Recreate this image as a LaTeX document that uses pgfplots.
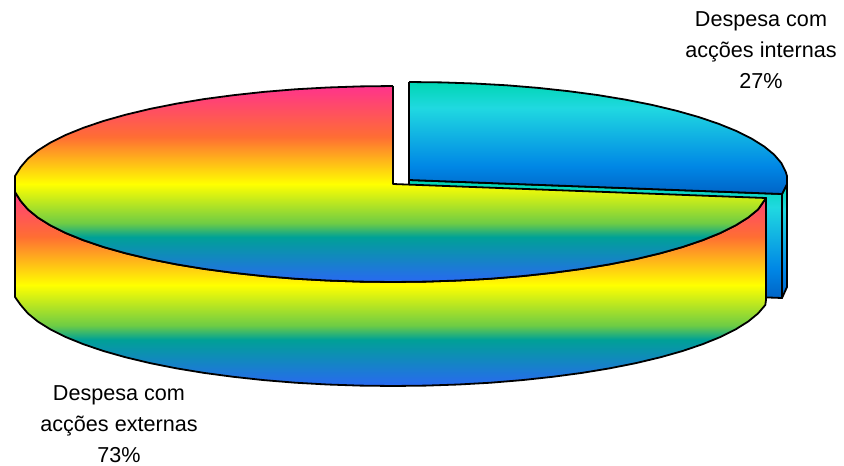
\documentclass[border=0pt]{standalone}
\usepackage{fontspec}
\setmainfont{Liberation Sans}
\usepackage{pgfplots}
\pgfplotsset{compat=1.18}
\tikzset{lab/.style={font=\fontsize{16.2pt}{19pt}\selectfont, anchor=center, inner sep=0pt}}
\pgfdeclareverticalshading{bigs}{100bp}{rgb(0bp)=(.16,.41,.95); rgb(25bp)=(.16,.41,.95); rgb(36.5bp)=(0,.63,.59); rgb(40bp)=(.43,.8,.27); rgb(50bp)=(1,1,0); rgb(62bp)=(1,.43,.2); rgb(75bp)=(1,.2,.55); rgb(100bp)=(1,.2,.55)}
\pgfdeclareverticalshading{smalls}{100bp}{rgb(0bp)=(0,.39,.78); rgb(25bp)=(0,.39,.78); rgb(37.5bp)=(0,.53,.9); rgb(63.5bp)=(.125,.85,.88); rgb(75bp)=(0,.84,.7); rgb(100bp)=(0,.84,.7)}
\begin{document}
\begin{tikzpicture}
\useasboundingbox (0,0) rectangle (633pt,348.75pt);
\begin{axis}[
  at={(0,0)}, anchor=south west,
  scale only axis, width=633pt, height=348.75pt,
  xmin=0, xmax=844, ymin=0, ymax=465, y dir=reverse,
  hide axis, clip=false,
  every axis plot/.append style={no markers, draw=black, line width=1.35pt, line join=round},
]
% outer side of small slice
\addplot[shading=smalls] coordinates {(782,194)(787,184)(787,287)(782,298)(782,194)};
% cut face of small slice
\addplot[shading=smalls] coordinates {(409,180)(782,194)(782,298)(409,284)(409,180)};
% top of small slice
\addplot[shading=smalls] coordinates {(409,82)(442,82.4)(474.6,83.5)(506.8,85.3)(538.3,87.9)(568.7,91.2)(598,95.1)(625.8,99.7)(652,104.9)(676.3,110.7)(698.6,117)(718.6,123.8)(736.4,131)(751.6,138.6)(764.2,146.5)(774.1,154.6)(781.3,163)(785.6,171.5)(787,176)(787,184)(782,194)(409,180)(409,82)};
% side of big slice
\addplot[shading=bigs] coordinates {(15,184)(15,192)(20.7,201)(27.9,209.4)(37.8,217.5)(50.4,225.4)(65.6,233)(83.4,240.2)(103.4,247)(125.7,253.3)(150,259.1)(176.2,264.3)(204,268.9)(233.3,272.8)(263.7,276.1)(295.2,278.7)(327.4,280.5)(360,281.6)(393,282)(426,281.6)(458.6,280.5)(490.8,278.7)(522.3,276.1)(552.7,272.8)(582,268.9)(609.8,264.3)(636,259.1)(660.3,253.3)(682.6,247)(702.6,240.2)(720.4,233)(735.6,225.4)(748.2,217.5)(758.1,209.4)(766,198)(766,300)(765.3,305)(758.1,313.4)(748.2,321.5)(735.6,329.4)(720.4,337)(702.6,344.2)(682.6,351)(660.3,357.3)(636,363.1)(609.8,368.3)(582,372.9)(552.7,376.8)(522.3,380.1)(490.8,382.7)(458.6,384.5)(426,385.6)(393,386)(360,385.6)(327.4,384.5)(295.2,382.7)(263.7,380.1)(233.3,376.8)(204,372.9)(176.2,368.3)(150,363.1)(125.7,357.3)(103.4,351)(83.4,344.2)(65.6,337)(50.4,329.4)(37.8,321.5)(27.9,313.4)(20.7,305)(15,297)(15,184)};
% top of big slice
\addplot[shading=bigs] coordinates {(393,86)(360,86.4)(327.4,87.5)(295.2,89.3)(263.7,91.9)(233.3,95.2)(204,99.1)(176.2,103.7)(150,108.9)(125.7,114.7)(103.4,121)(83.4,127.8)(65.6,135)(50.4,142.6)(37.8,150.5)(27.9,158.6)(20.7,167)(15,176)(15,192)(20.7,201)(27.9,209.4)(37.8,217.5)(50.4,225.4)(65.6,233)(83.4,240.2)(103.4,247)(125.7,253.3)(150,259.1)(176.2,264.3)(204,268.9)(233.3,272.8)(263.7,276.1)(295.2,278.7)(327.4,280.5)(360,281.6)(393,282)(426,281.6)(458.6,280.5)(490.8,278.7)(522.3,276.1)(552.7,272.8)(582,268.9)(609.8,264.3)(636,259.1)(660.3,253.3)(682.6,247)(702.6,240.2)(720.4,233)(735.6,225.4)(748.2,217.5)(758.1,209.4)(766,198)(393,184)(393,86)};
\node[lab] at (axis cs:761,21) {\vphantom{p}Despesa com};
\node[lab] at (axis cs:761,52) {\vphantom{p}acções internas};
\node[lab] at (axis cs:761,81) {27\%};
\node[lab] at (axis cs:119,395) {\vphantom{p}Despesa com};
\node[lab] at (axis cs:119,426) {\vphantom{p}acções externas};
\node[lab] at (axis cs:119,455) {73\%};
\end{axis}
\end{tikzpicture}
\end{document}
